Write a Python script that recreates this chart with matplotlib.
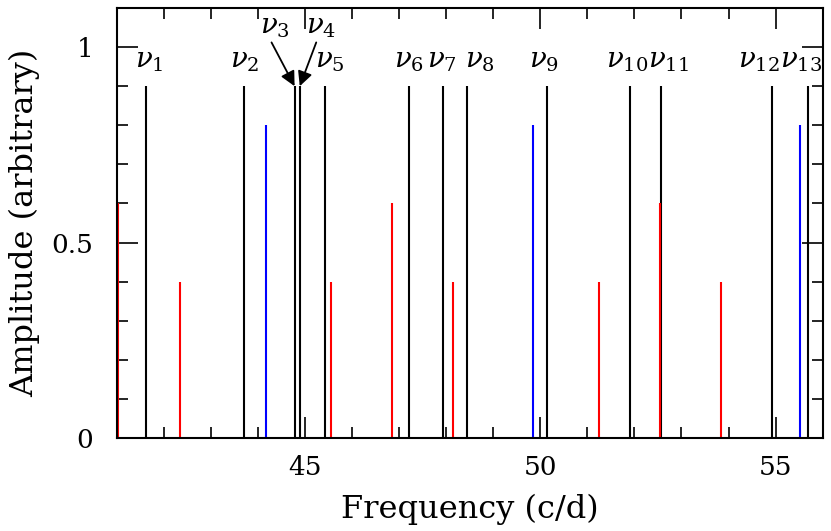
import numpy as np
import matplotlib
matplotlib.use('Agg')
import matplotlib.pyplot as plt

plt.rcParams['font.family'] = 'DejaVu Serif'
plt.rcParams['mathtext.fontset'] = 'dejavuserif'

# identified frequencies (black), amplitudes in arbitrary units
nu_freq = [41.62, 43.70, 44.78, 44.89, 45.43, 47.21, 47.94, 48.44,
           50.15, 51.91, 52.56, 54.93, 55.69]
nu_amp = [0.9] * 13
nu_names = [r'$\nu_{%d}$' % (i + 1) for i in range(13)]

# blue and red components
blue_freq = [44.17, 49.84, 55.52]
blue_amp = [0.8, 0.8, 0.8]
red_freq = [41.03, 42.34, 45.55, 46.84, 48.14, 51.24, 52.54, 53.83]
red_amp = [0.6, 0.4, 0.4, 0.6, 0.4, 0.4, 0.6, 0.4]

# label placement (x centre of label), nu3/nu4 sit higher with arrows
lab_x = [41.69, 43.72, 44.37, 45.35, 45.53, 47.22, 47.92, 48.72,
         50.08, 51.85, 52.72, 54.65, 55.54]
arrow_tail_x = {2: 44.29, 3: 45.24}

fig = plt.figure(figsize=(8.31, 5.31), dpi=100)
ax = fig.add_axes([0.1404, 0.1751, 0.8496, 0.8098])

ax.vlines(nu_freq, 0, nu_amp, colors='black', lw=1.5)
ax.vlines(blue_freq, 0, blue_amp, colors='blue', lw=1.5)
ax.vlines(red_freq, 0, red_amp, colors='red', lw=1.5)

for i in range(13):
    if i in arrow_tail_x:
        ax.text(lab_x[i], 1.035, nu_names[i], ha='center', va='baseline', fontsize=20)
        ax.annotate('', xy=(nu_freq[i], 0.9), xytext=(arrow_tail_x[i], 1.012),
                    arrowprops=dict(arrowstyle='-|>', color='black', lw=1.3,
                                    mutation_scale=22, shrinkA=0, shrinkB=0))
    else:
        ax.text(lab_x[i], 0.947, nu_names[i], ha='center', va='baseline', fontsize=20)

ax.set_xlim(41, 56)
ax.set_ylim(0, 1.1)
ax.set_xticks([45, 50, 55])
ax.set_xticks(np.arange(42, 56.5, 1), minor=True)
ax.set_yticks([0, 0.5, 1])
ax.set_yticklabels(['0', '0.5', '1'])
ax.set_yticks(np.arange(0, 1.11, 0.1), minor=True)
ax.tick_params(which='both', direction='in', top=True, right=True, labelsize=19, width=1.2)
ax.tick_params(which='major', length=15)
ax.tick_params(axis='x', which='major', pad=12)
ax.tick_params(axis='y', which='major', pad=17)
ax.tick_params(which='minor', length=8)
for s in ax.spines.values():
    s.set_linewidth(1.5)

ax.set_xlabel('Frequency (c/d)', fontsize=23, labelpad=10)
ax.set_ylabel('Amplitude (arbitrary)', fontsize=23, labelpad=8)

fig.savefig('out.png', dpi=100)
